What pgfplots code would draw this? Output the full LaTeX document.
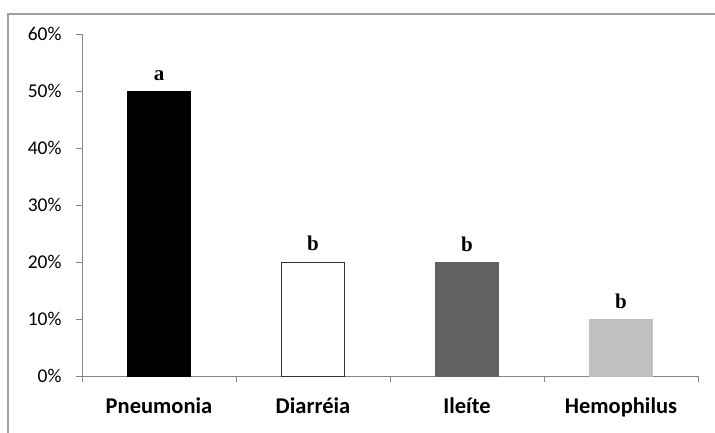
\documentclass[border=0pt]{standalone}
\usepackage{pgfplots}
\pgfplotsset{compat=1.18}
\usepackage{fontspec}
\setmainfont{Carlito}
\newfontfamily\serifb{Liberation Serif}
\definecolor{axisgray}{HTML}{868686}
\definecolor{framegray}{HTML}{A0A0A0}
\definecolor{darkbar}{HTML}{626262}
\definecolor{lightbar}{HTML}{C0C0C0}

\begin{document}
\begin{tikzpicture}[x=1pt,y=1pt]
  \useasboundingbox (0,0) rectangle (715,432);
  % outer chart frame (right and bottom edges fall outside the picture)
  \draw[framegray, line width=1.5pt] (8,-20) rectangle (740,418);
  \begin{axis}[
    at={(82pt,56pt)}, anchor=south west,
    scale only axis,
    width=616pt, height=342pt,
    ybar, bar width=63pt, bar shift=0pt,
    xmin=-0.5, xmax=3.5,
    ymin=0, ymax=60,
    axis x line*=bottom, axis y line*=left,
    axis line style={axisgray, line width=1pt},
    xtick={0,1,2,3},
    xticklabels={Pneumonia, Diarréia, Ileíte, Hemophilus},
    major x tick style={draw=none},
    minor xtick={-0.5,0.5,1.5,2.5,3.5},
    minor x tick style={axisgray, line width=1pt},
    ytick={0,10,20,30,40,50,60},
    y tick style={axisgray, line width=1pt},
    tick align=outside,
    major tick length=6pt, minor tick length=6pt,
    yticklabel={\pgfmathprintnumber{\tick}\%},
    /pgf/number format/assume math mode=true,
    ticklabel style={font=\fontsize{19.5}{22}\selectfont, text=black},
    xticklabel style={font=\fontsize{22.5}{26}\selectfont\bfseries, yshift=-12pt},
    yticklabel style={xshift=-11pt},
    nodes near coords,
    point meta=explicit symbolic,
    every node near coord/.append style={font=\serifb\bfseries\fontsize{21}{24}\selectfont, text=black, yshift=7pt},
    clip=false,
  ]
    \addplot[fill=black, draw=black] coordinates {(0,50) [a]};
    \addplot[fill=white, draw=black!80, line width=1pt] coordinates {(1,20) [b]};
    \addplot[fill=darkbar, draw=darkbar] coordinates {(2,20) [b]};
    \addplot[fill=lightbar, draw=lightbar] coordinates {(3,10) [b]};
  \end{axis}
\end{tikzpicture}
\end{document}
